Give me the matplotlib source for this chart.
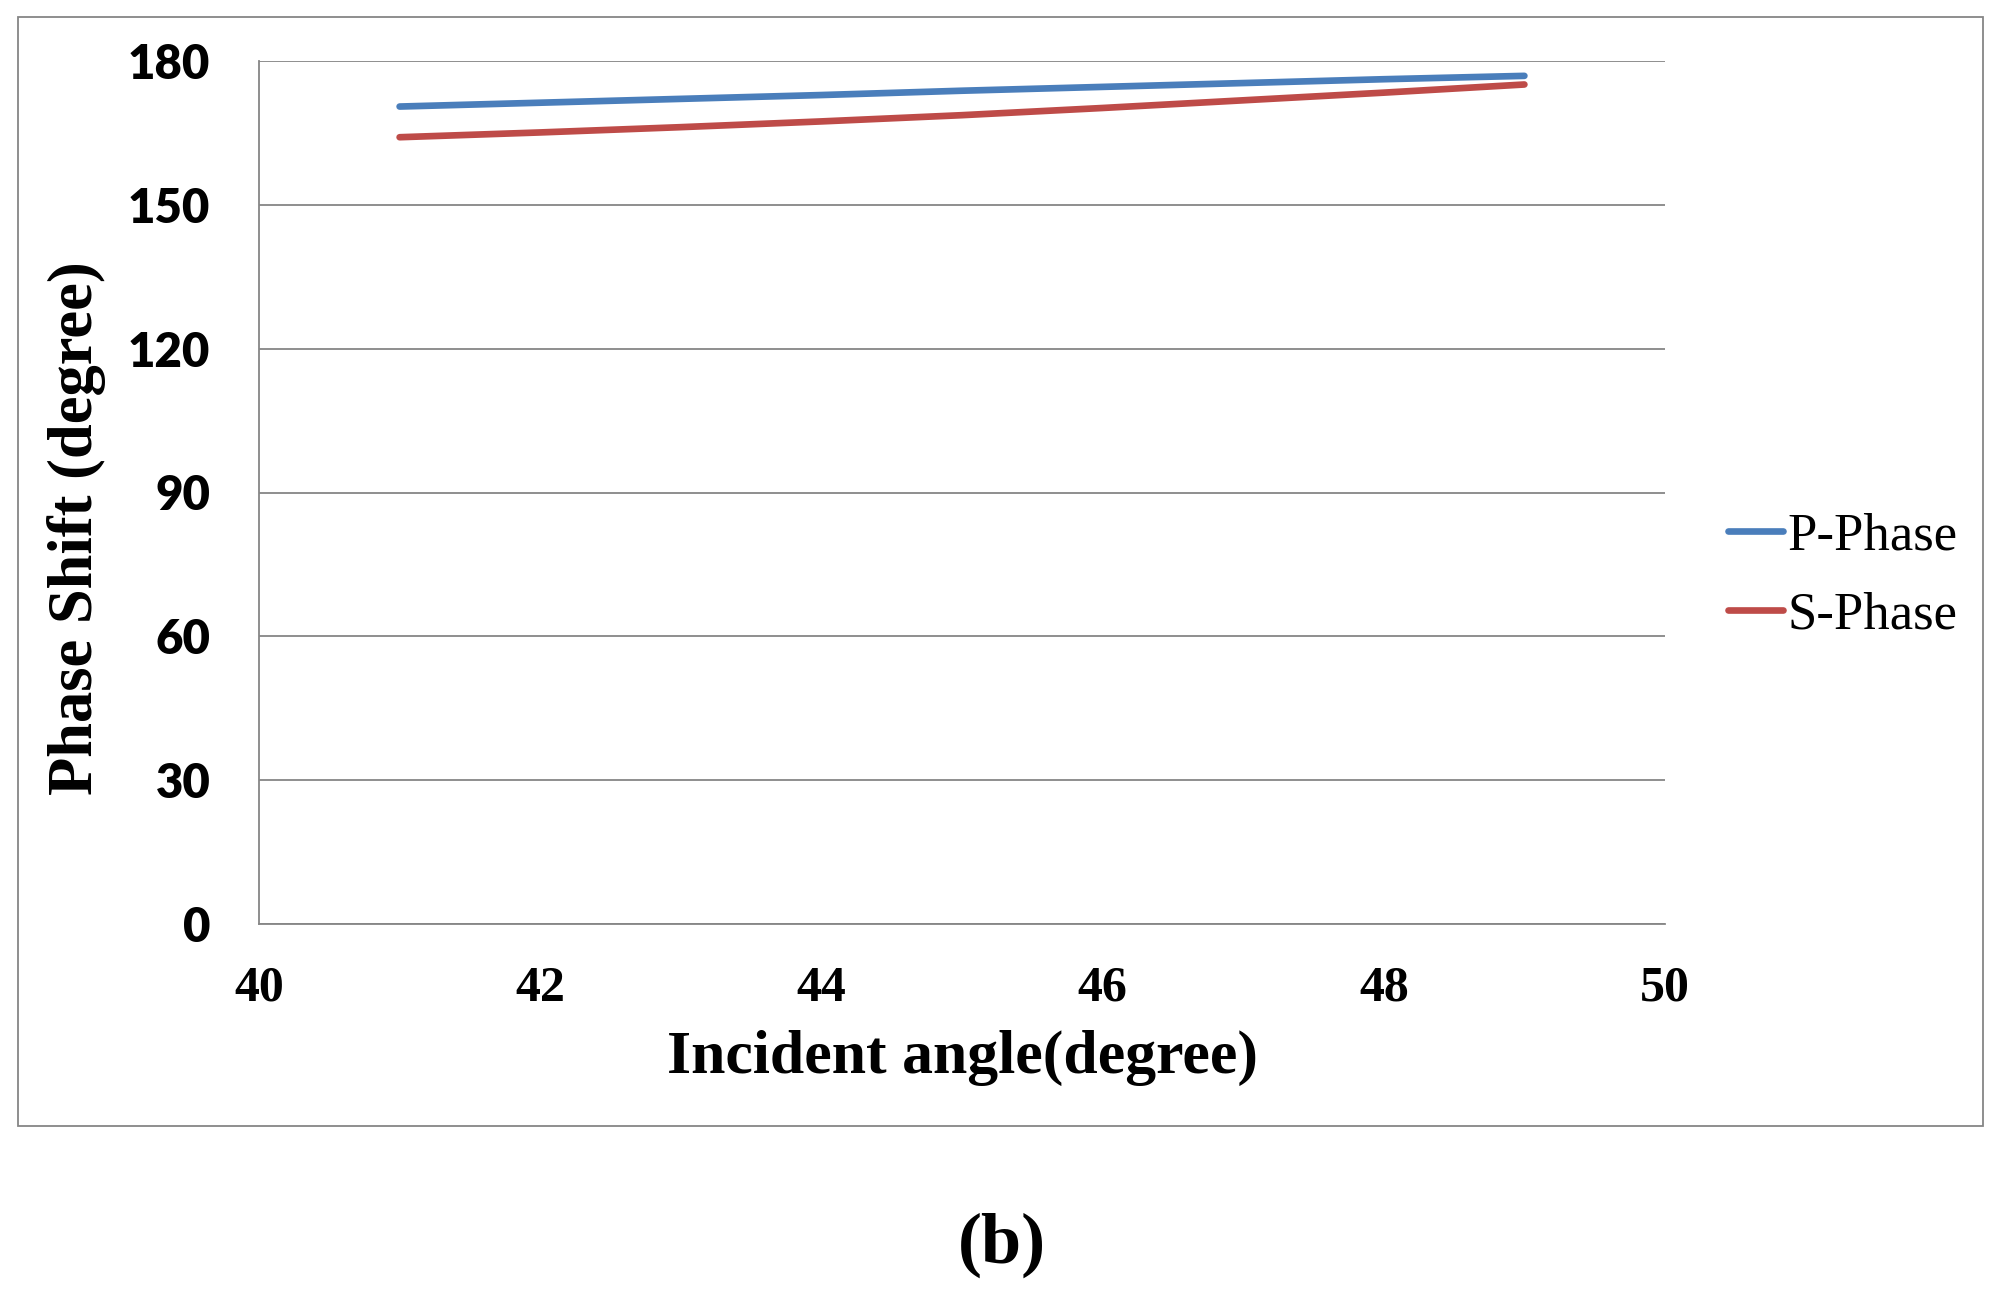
import matplotlib
matplotlib.use("Agg")
import matplotlib.pyplot as plt
from matplotlib.patches import Rectangle

# Data
incident_angle = [41, 42, 43, 44, 45, 46, 47, 48, 49]
p_phase = [170.5, 171.3, 172.1, 172.9, 173.8, 174.6, 175.4, 176.2, 176.9]
s_phase = [164.1, 165.1, 166.2, 167.4, 168.7, 170.2, 171.8, 173.4, 175.1]
series_labels = ["P-Phase", "S-Phase"]
x_ticks = [40, 42, 44, 46, 48, 50]
y_ticks = [0, 30, 60, 90, 120, 150, 180]

W, H = 2001, 1293
fig = plt.figure(figsize=(W / 100, H / 100), dpi=100)
fig.patch.set_facecolor("white")

# outer chart border
fig.patches.append(Rectangle((18 / W, 1 - 1126 / H), (1983 - 18) / W, (1126 - 17) / H,
                             transform=fig.transFigure, fill=False,
                             edgecolor="#868686", linewidth=1.3))

left, right, top, bottom = 259, 1665, 61, 924
ax = fig.add_axes([left / W, 1 - bottom / H, (right - left) / W, (bottom - top) / H])

blue = "#4A7EBB"
red = "#BE4B48"
ax.plot(incident_angle, p_phase, color=blue, lw=4.8, solid_capstyle="round", label=series_labels[0], zorder=3)
ax.plot(incident_angle, s_phase, color=red, lw=4.8, solid_capstyle="round", label=series_labels[1], zorder=3)

ax.set_xlim(40, 50)
ax.set_ylim(0, 180)
ax.set_xticks(x_ticks)
ax.set_yticks(y_ticks)
ax.yaxis.grid(True, color="#868686", lw=1.3)
ax.set_axisbelow(True)
for s in ["top", "right"]:
    ax.spines[s].set_visible(False)
for s in ["left", "bottom"]:
    ax.spines[s].set_color("#868686")
    ax.spines[s].set_linewidth(1.3)
ax.tick_params(length=0)
ax.tick_params(axis="x", pad=30)
ax.tick_params(axis="y", pad=35)
for lab in ax.get_xticklabels():
    lab.set_fontfamily("Liberation Serif")
    lab.set_fontweight("bold")
    lab.set_fontsize(36)
for lab in ax.get_yticklabels():
    lab.set_fontfamily("Lato")
    lab.set_fontweight("heavy")
    lab.set_fontsize(34)

fig.text(962 / W, 1 - 1058 / H, "Incident angle(degree)", ha="center", va="center",
         fontfamily="Liberation Serif", fontweight="bold", fontsize=44.5)
fig.text(77 / W, 1 - 528 / H, "Phase Shift (degree)", ha="center", va="center", rotation=90,
         fontfamily="Liberation Serif", fontweight="bold", fontsize=45)
fig.text(1002 / W, 1 - 1245 / H, "(b)", ha="center", va="center",
         fontfamily="Liberation Serif", fontweight="bold", fontsize=52)

leg = ax.legend(loc="center left", bbox_to_anchor=(1728 / W, 1 - 576 / H),
                bbox_transform=fig.transFigure, frameon=False, borderpad=0,
                borderaxespad=0, handlelength=1.05, handletextpad=0.08,
                labelspacing=0.6, prop={"family": "Liberation Serif", "size": 38})
for line in leg.get_lines():
    line.set_linewidth(4.8)

fig.savefig("out.png", dpi=100, facecolor="white")
